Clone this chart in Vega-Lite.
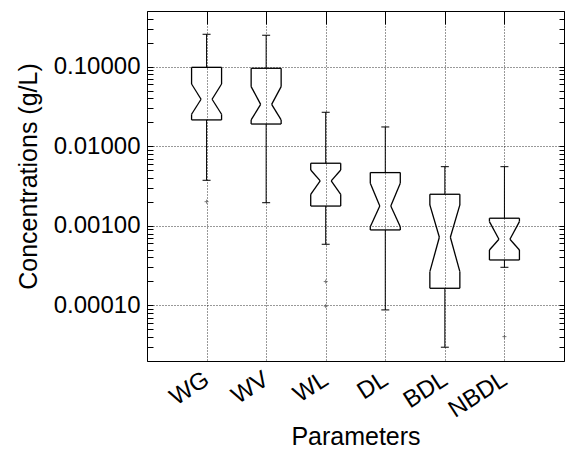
{
  "$schema": "https://vega.github.io/schema/vega-lite/v6.json",
  "width": 417,
  "height": 350,
  "autosize": {"type": "none"},
  "padding": {"left": 147, "top": 11, "right": 3, "bottom": 88},
  "background": "white",
  "config": {
    "view": {"stroke": "black", "strokeWidth": 1},
    "font": "Liberation Sans",
    "rule": {"color": "black", "strokeWidth": 1.3}
  },
  "datasets": {
    "boxes": [
      {"name": "WG", "lo": 0.00373, "q1": 0.0214, "nlo": 0.0252, "med": 0.0389, "nhi": 0.0605, "q3": 0.098, "hi": 0.255},
      {"name": "WV", "lo": 0.00195, "q1": 0.019, "nlo": 0.0214, "med": 0.0336, "nhi": 0.056, "q3": 0.0953, "hi": 0.248},
      {"name": "WL", "lo": 0.000586, "q1": 0.00177, "nlo": 0.00249, "med": 0.00366, "nhi": 0.00503, "q3": 0.00611, "hi": 0.0267},
      {"name": "DL", "lo": 0.0000877, "q1": 0.000887, "nlo": 0.000975, "med": 0.00177, "nhi": 0.00342, "q3": 0.00466, "hi": 0.01745},
      {"name": "BDL", "lo": 0.0000298, "q1": 0.000164, "nlo": 0.000265, "med": 0.000718, "nhi": 0.00183, "q3": 0.00249, "hi": 0.00553},
      {"name": "NBDL", "lo": 0.000301, "q1": 0.000372, "nlo": 0.000497, "med": 0.000678, "nhi": 0.00113, "q3": 0.001245, "hi": 0.00553}
    ],
    "outliers": [
      {"name": "WG", "value": 0.00201},
      {"name": "WL", "value": 0.000199},
      {"name": "WL", "value": 0.000098},
      {"name": "NBDL", "value": 0.0000405}
    ]
  },
  "data": {"name": "boxes"},
  "encoding": {
    "x": {"field": "name", "type": "nominal", "scale": {"type": "point", "padding": 1, "domain": ["WG", "WV", "WL", "DL", "BDL", "NBDL"]}, "axis": null}
  },
  "layer": [
    {
      "mark": {"type": "rule", "strokeWidth": 1},
      "encoding": {
        "x": {"field": "name", "type": "nominal", "scale": {"type": "point", "padding": 1, "domain": ["WG", "WV", "WL", "DL", "BDL", "NBDL"]},
          "axis": {"orient": "bottom", "title": "Parameters", "titleFontSize": 25, "titleFontWeight": "normal", "titleColor": "black", "titlePadding": 3,
            "labelFontSize": 24, "labelColor": "black", "labelAngle": -33, "labelAlign": "right", "labelBaseline": "middle", "labelPadding": 16,
            "ticks": false, "domain": false, "grid": true, "gridColor": "black", "gridDash": [1, 2], "gridOpacity": 0.8, "gridWidth": 1}},
        "y": {"field": "q3", "type": "quantitative", "scale": {"type": "log", "domain": [0.00002, 0.5]},
          "axis": {"orient": "left", "title": "Concentrations (g/L)", "titleFontSize": 25, "titleFontWeight": "normal", "titleColor": "black", "titlePadding": 12, "titleY": 165,
            "values": [0.00002, 0.00003, 0.00004, 0.00005, 0.00006, 0.00007, 0.00008, 0.00009, 0.0001, 0.0002, 0.0003, 0.0004, 0.0005, 0.0006, 0.0007, 0.0008, 0.0009, 0.001, 0.002, 0.003, 0.004, 0.005, 0.006, 0.007, 0.008, 0.009, 0.01, 0.02, 0.03, 0.04, 0.05, 0.06, 0.07, 0.08, 0.09, 0.1, 0.2, 0.3, 0.4, 0.5],
            "labelExpr": "abs(log(datum.value)/LN10 - round(log(datum.value)/LN10)) < 1e-6 ? format(datum.value, '.5f') : ''",
            "labelFontSize": 24, "labelColor": "black", "labelPadding": 13, "tickSize": -6, "tickColor": "black", "domain": false,
            "grid": true, "gridColor": "black", "gridDash": [1, 2], "gridWidth": 1,
            "gridOpacity": {"condition": {"test": "abs(log(datum.value)/LN10 - round(log(datum.value)/LN10)) < 1e-6", "value": 0.8}, "value": 0}}},
        "y2": {"field": "hi"}
      }
    },
    {
      "mark": {"type": "rule", "strokeWidth": 1},
      "encoding": {
        "x": {"field": "name", "type": "nominal", "scale": {"type": "point", "padding": 1, "domain": ["WG", "WV", "WL", "DL", "BDL", "NBDL"]},
          "axis": {"orient": "top", "title": null, "labels": false, "domain": false, "grid": false, "tickSize": -13, "tickColor": "black"}},
        "y": {"field": "lo", "type": "quantitative", "scale": {"type": "log", "domain": [0.00002, 0.5]},
          "axis": {"orient": "right", "title": null, "labels": false, "domain": false, "grid": false, "tickSize": -5, "tickColor": "black",
            "values": [0.00002, 0.00003, 0.00004, 0.00005, 0.00006, 0.00007, 0.00008, 0.00009, 0.0001, 0.0002, 0.0003, 0.0004, 0.0005, 0.0006, 0.0007, 0.0008, 0.0009, 0.001, 0.002, 0.003, 0.004, 0.005, 0.006, 0.007, 0.008, 0.009, 0.01, 0.02, 0.03, 0.04, 0.05, 0.06, 0.07, 0.08, 0.09, 0.1, 0.2, 0.3, 0.4, 0.5]}},
        "y2": {"field": "q1"}
      }
    },
    {
      "mark": {"type": "rule", "strokeWidth": 1, "xOffset": -4, "x2Offset": 4},
      "encoding": {"x2": {"field": "name"}, "y": {"field": "hi", "type": "quantitative", "scale": {"type": "log", "domain": [0.00002, 0.5]}, "axis": null}}
    },
    {
      "mark": {"type": "rule", "strokeWidth": 1, "xOffset": -4, "x2Offset": 4},
      "encoding": {"x2": {"field": "name"}, "y": {"field": "lo", "type": "quantitative", "scale": {"type": "log", "domain": [0.00002, 0.5]}, "axis": null}}
    },
    {
      "mark": {"type": "rule", "xOffset": -15, "x2Offset": 15},
      "encoding": {"x2": {"field": "name"}, "y": {"field": "q3", "type": "quantitative", "scale": {"type": "log", "domain": [0.00002, 0.5]}, "axis": null}}
    },
    {
      "mark": {"type": "rule", "xOffset": -15, "x2Offset": 15},
      "encoding": {"x2": {"field": "name"}, "y": {"field": "q1", "type": "quantitative", "scale": {"type": "log", "domain": [0.00002, 0.5]}, "axis": null}}
    },
    {
      "mark": {"type": "rule", "xOffset": -15},
      "encoding": {"y": {"field": "q3", "type": "quantitative", "scale": {"type": "log", "domain": [0.00002, 0.5]}, "axis": null}, "y2": {"field": "nhi"}}
    },
    {
      "mark": {"type": "rule", "xOffset": 15},
      "encoding": {"y": {"field": "q3", "type": "quantitative", "scale": {"type": "log", "domain": [0.00002, 0.5]}, "axis": null}, "y2": {"field": "nhi"}}
    },
    {
      "mark": {"type": "rule", "xOffset": -15},
      "encoding": {"y": {"field": "nlo", "type": "quantitative", "scale": {"type": "log", "domain": [0.00002, 0.5]}, "axis": null}, "y2": {"field": "q1"}}
    },
    {
      "mark": {"type": "rule", "xOffset": 15},
      "encoding": {"y": {"field": "nlo", "type": "quantitative", "scale": {"type": "log", "domain": [0.00002, 0.5]}, "axis": null}, "y2": {"field": "q1"}}
    },
    {
      "mark": {"type": "rule", "xOffset": -15, "x2Offset": -5.5},
      "encoding": {"x2": {"field": "name"}, "y": {"field": "nhi", "type": "quantitative", "scale": {"type": "log", "domain": [0.00002, 0.5]}, "axis": null}, "y2": {"field": "med"}}
    },
    {
      "mark": {"type": "rule", "xOffset": 15, "x2Offset": 5.5},
      "encoding": {"x2": {"field": "name"}, "y": {"field": "nhi", "type": "quantitative", "scale": {"type": "log", "domain": [0.00002, 0.5]}, "axis": null}, "y2": {"field": "med"}}
    },
    {
      "mark": {"type": "rule", "xOffset": -5.5, "x2Offset": -15},
      "encoding": {"x2": {"field": "name"}, "y": {"field": "med", "type": "quantitative", "scale": {"type": "log", "domain": [0.00002, 0.5]}, "axis": null}, "y2": {"field": "nlo"}}
    },
    {
      "mark": {"type": "rule", "xOffset": 5.5, "x2Offset": 15},
      "encoding": {"x2": {"field": "name"}, "y": {"field": "med", "type": "quantitative", "scale": {"type": "log", "domain": [0.00002, 0.5]}, "axis": null}, "y2": {"field": "nlo"}}
    },
    {
      "data": {"name": "outliers"},
      "mark": {"type": "point", "shape": "M-1,0L1,0M0,-1L0,1", "size": 16, "stroke": "#444", "strokeWidth": 1, "filled": false},
      "encoding": {"y": {"field": "value", "type": "quantitative", "scale": {"type": "log", "domain": [0.00002, 0.5]}, "axis": null}}
    }
  ],
  "resolve": {"axis": {"x": "independent", "y": "independent"}}
}
